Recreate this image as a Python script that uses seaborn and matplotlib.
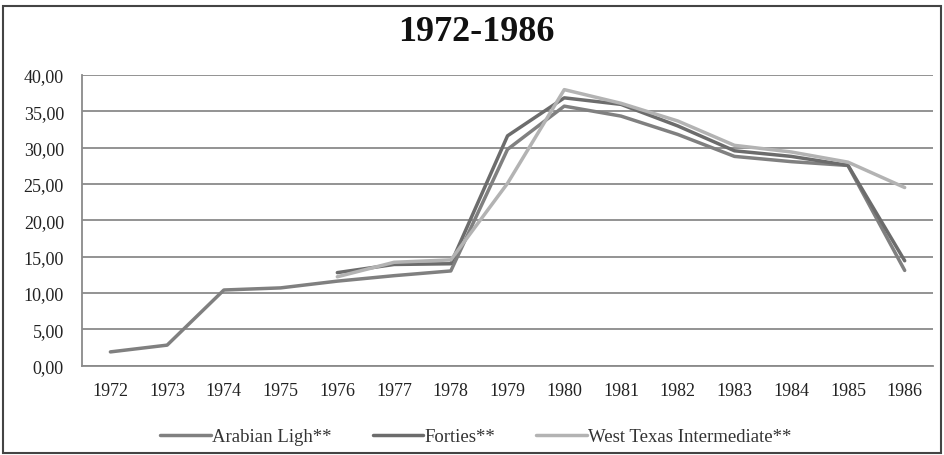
import matplotlib
matplotlib.use("Agg")
import matplotlib.pyplot as plt
import seaborn as sns
import numpy as np
import pandas as pd
from matplotlib.patches import Rectangle
from matplotlib.ticker import FuncFormatter, FixedLocator
from matplotlib.lines import Line2D

# Crude oil spot prices (US$/barrel)
years = list(range(1972, 1987))
arabian = [1.90, 2.83, 10.41, 10.70, 11.63, 12.38, 13.03, 29.75, 35.69, 34.32, 31.80, 28.78, 28.06, 27.53, 13.10]
forties = [np.nan] * 4 + [12.80, 13.92, 14.02, 31.61, 36.83, 35.93, 32.97, 29.55, 28.78, 27.56, 14.43]
wti = [np.nan] * 4 + [12.23, 14.22, 14.55, 25.08, 37.96, 36.08, 33.65, 30.30, 29.39, 27.99, 24.50]

labels = ["Arabian Ligh**", "Forties**", "West Texas Intermediate**"]
colors = ["#808080", "#6c6c6c", "#b3b3b3"]

df = pd.DataFrame({"year": years, labels[0]: arabian, labels[1]: forties, labels[2]: wti})
long = df.melt(id_vars="year", var_name="serie", value_name="price").dropna()

sns.set_style("white")
plt.rcParams["font.family"] = ["Liberation Serif", "DejaVu Serif"]

fig = plt.figure(figsize=(9.44, 4.56), dpi=100)
ax = fig.add_axes([0.0869, 0.1958, 0.9015, 0.638])

sns.lineplot(data=long, x="year", y="price", hue="serie", hue_order=labels,
             palette=dict(zip(labels, colors)), linewidth=2.5, ax=ax, legend=False)

grid_col = "#8a8a8a"
ax.set_xlim(1971.5, 1986.5)
ax.set_ylim(0, 40)
ax.set_yticks(np.arange(0, 41, 5))
ax.yaxis.set_major_formatter(FuncFormatter(lambda v, p: f"{v:.2f}".replace(".", ",")))
ax.set_xticks(years)
ax.set_xticklabels([str(y) for y in years])
ax.xaxis.set_minor_locator(FixedLocator(np.arange(1971.5, 1987, 1)))
ax.grid(axis="y", color=grid_col, linewidth=1.3)
ax.set_axisbelow(True)
for s in ["top", "right"]:
    ax.spines[s].set_visible(False)
for s in ["left", "bottom"]:
    ax.spines[s].set_color(grid_col)
    ax.spines[s].set_linewidth(1.3)
ax.tick_params(axis="x", which="major", length=0, pad=12, labelsize=13, labelcolor="#222222")
ax.tick_params(axis="x", which="minor", length=5, width=1, color=grid_col, direction="out")
ax.tick_params(axis="y", length=5, width=1, color=grid_col, pad=8, labelsize=13, labelcolor="#222222")
ax.set_xlabel("")
ax.set_ylabel("")

fig.text(0.505, 0.928, "1972-1986", ha="center", va="center", fontsize=26, fontweight="bold", color="#111111")

handles = [Line2D([0], [0], color=c, linewidth=2.5) for c in colors]
fig.legend(handles, labels, loc="center", bbox_to_anchor=(0.504, 0.04), ncol=3, frameon=False,
           fontsize=13.5, handlelength=2.7, handletextpad=0.05, columnspacing=2.2, labelcolor="#333333")

# outer frame
fig.patches.append(Rectangle((3 / 944, 2 / 456), 938 / 944, 447 / 456, transform=fig.transFigure,
                             fill=False, edgecolor="#444444", linewidth=1.5))

fig.savefig("out.png", dpi=100)
plt.close(fig)
